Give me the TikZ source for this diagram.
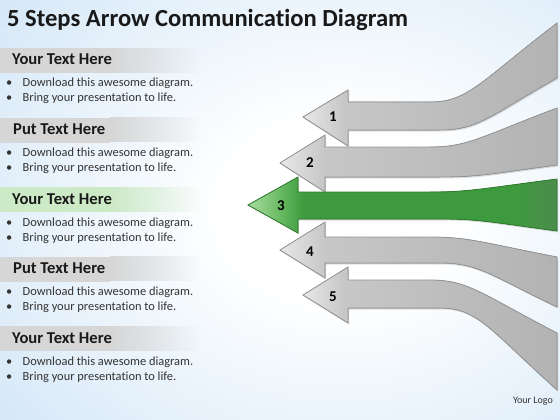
\documentclass[tikz,border=0pt]{standalone}
\usepackage{fontspec}
\setmainfont{Carlito}[Ligatures=NoCommon]
\usetikzlibrary{fadings,shadows}

\definecolor{bgblue}{HTML}{D2E6F7}
\definecolor{bandgray}{HTML}{D6D6D6}
\definecolor{bandgreen}{HTML}{CDEAC7}
\definecolor{greenlight}{HTML}{A8DCA0}
\definecolor{greenhead}{HTML}{5FB45A}
\definecolor{greenmid}{HTML}{3E9A3E}
\definecolor{greendark}{HTML}{4C8C4C}
\definecolor{greenline}{HTML}{2E7D2E}
\definecolor{textgray}{HTML}{333333}

\pgfdeclareradialshading{slideback}{\pgfpoint{0bp}{0bp}}{color(0bp)=(white); color(8bp)=(white); color(32bp)=(bgblue); color(75bp)=(bgblue)}
\pgfdeclarehorizontalshading{grayshade}{100bp}{color(0bp)=(black!9); color(25bp)=(black!9); color(33bp)=(black!22); color(75bp)=(black!30); color(100bp)=(black!30)}
\pgfdeclarehorizontalshading{greenshade}{100bp}{color(0bp)=(greenlight); color(25bp)=(greenlight); color(31bp)=(greenhead); color(34bp)=(greenmid); color(68bp)=(greenmid); color(75bp)=(greendark); color(100bp)=(greendark)}
\tikzfading[name=bandfade, left color=transparent!0, right color=transparent!100]

\tikzset{
  headline/.style={font=\fontsize{16.6}{18}\selectfont\bfseries, anchor=base west, inner sep=0pt, text=black!90},
  bulletline/.style={font=\fontsize{12.4}{14}\selectfont, anchor=base west, inner sep=0pt, text=textgray},
  stepnum/.style={font=\fontsize{15}{17}\selectfont\bfseries, inner sep=0pt},
  grayarrow/.style={draw=black!42, line width=0.8pt, shade, shading=grayshade,
    drop shadow={opacity=0.25, shadow xshift=1pt, shadow yshift=-1.5pt}},
  greenarrow/.style={draw=greenline, line width=0.8pt, shade, shading=greenshade,
    drop shadow={opacity=0.25, shadow xshift=1pt, shadow yshift=-1.5pt}}
}

\newcommand{\bul}{\makebox[16.5pt][l]{\textbullet}}

\begin{document}
\begin{tikzpicture}[x=1pt, y=-1pt]
    \useasboundingbox (0,0) rectangle (560,420);
    % background
    \begin{scope}
    \clip (0,0) rectangle (560,420);
    \shade[shading=slideback] (-20,-70) rectangle (700,490);
    \end{scope}

    \node[font=\fontsize{24.6}{28}\selectfont\bfseries, anchor=base west, inner sep=0pt, text=black!90] (title) at (7,27) {5 Steps Arrow Communication Diagram};

    % text blocks on the left
    \fill[bandgray] (0,48) rectangle (110,73);
    \fill[bandgray, path fading=bandfade] (110,48) rectangle (200,73);
    \node[headline] (head1) at (12,65) {Your Text Here};
    \node[bulletline] (txt1a) at (6,87) {\bul Download this awesome diagram.};
    \node[bulletline] (txt1b) at (6,102) {\bul Bring your presentation to life.};

    \fill[bandgray] (0,117.5) rectangle (110,142.5);
    \fill[bandgray, path fading=bandfade] (110,117.5) rectangle (200,142.5);
    \node[headline] (head2) at (13,134.5) {Put Text Here};
    \node[bulletline] (txt2a) at (6,156.5) {\bul Download this awesome diagram.};
    \node[bulletline] (txt2b) at (6,171.5) {\bul Bring your presentation to life.};

    \fill[bandgreen] (0,187) rectangle (110,212);
    \fill[bandgreen, path fading=bandfade] (110,187) rectangle (200,212);
    \node[headline] (head3) at (12,204) {Your Text Here};
    \node[bulletline] (txt3a) at (6,226) {\bul Download this awesome diagram.};
    \node[bulletline] (txt3b) at (6,241) {\bul Bring your presentation to life.};

    \fill[bandgray] (0,256.5) rectangle (110,281.5);
    \fill[bandgray, path fading=bandfade] (110,256.5) rectangle (200,281.5);
    \node[headline] (head4) at (13,273.5) {Put Text Here};
    \node[bulletline] (txt4a) at (6,295.5) {\bul Download this awesome diagram.};
    \node[bulletline] (txt4b) at (6,310.5) {\bul Bring your presentation to life.};

    \fill[bandgray] (0,326) rectangle (110,351);
    \fill[bandgray, path fading=bandfade] (110,326) rectangle (200,351);
    \node[headline] (head5) at (12,343) {Your Text Here};
    \node[bulletline] (txt5a) at (6,365) {\bul Download this awesome diagram.};
    \node[bulletline] (txt5b) at (6,380) {\bul Bring your presentation to life.};

    % the five arrows
    \filldraw[grayarrow] (303,117) -- (348,90) -- (348,102) -- (430,102) .. controls (468,102) and (480,82) .. (557,23)
      -- (557,78) .. controls (490,116) and (478,130) .. (440,130) -- (348,130) -- (348,146) -- cycle;
    \filldraw[grayarrow] (280,163) -- (325,135) -- (325,147) -- (430,147) .. controls (468,147) and (480,137) .. (557,108)
      -- (557,165) .. controls (490,174) and (478,177) .. (440,177) -- (325,177) -- (325,192) -- cycle;
    \filldraw[grayarrow] (280,250) -- (325,222) -- (325,237) -- (430,237) .. controls (468,237) and (480,242) .. (557,257)
      -- (557,307) .. controls (490,275) and (478,263) .. (440,263) -- (325,263) -- (325,278) -- cycle;
    \filldraw[grayarrow] (303,295) -- (348,267) -- (348,280) -- (430,280) .. controls (468,280) and (480,293) .. (557,333)
      -- (557,390) .. controls (490,330) and (478,308) .. (440,308) -- (348,308) -- (348,323) -- cycle;
    \filldraw[greenarrow] (248,205) -- (298,177) -- (298,192) -- (430,192) .. controls (468,192) and (480,189) .. (557,179)
      -- (557,231) .. controls (490,222) and (478,219) .. (440,219) -- (298,219) -- (298,233) -- cycle;

    \node[stepnum] (num1) at (333,117) {1};
    \node[stepnum] (num2) at (310,163) {2};
    \node[stepnum] (num3) at (281,206) {3};
    \node[stepnum] (num4) at (310,252) {4};
    \node[stepnum] (num5) at (333,297) {5};

    \node[font=\fontsize{10}{12}\selectfont, anchor=base east, inner sep=0pt, text=textgray] (logo) at (553,403) {Your Logo};
\end{tikzpicture}
\end{document}
